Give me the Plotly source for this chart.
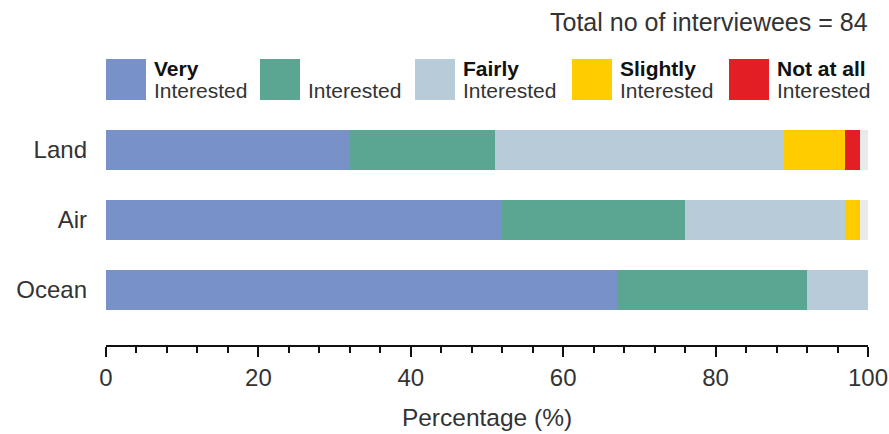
import plotly.graph_objects as go

categories = ["Land", "Air", "Ocean"]
series_names = ["Very Interested", "Interested", "Fairly Interested", "Slightly Interested", "Not at all Interested", "No answer"]
very = [32, 52, 67]
interested = [19, 24, 25]
fairly = [38, 21, 8]
slightly = [8, 2, 0]
not_at_all = [2, 0, 0]
no_answer = [1, 1, 0]
x_ticks = [0, 20, 40, 60, 80, 100]
legend_top = ["Very", "", "Fairly", "Slightly", "Not at all"]
legend_bottom = ["Interested"] * 5
colors = ["#7891c9", "#5ba593", "#b8cbd8", "#ffcc00", "#e31e24", "#e9ebeb"]

FONT = "Liberation Sans, Arial, sans-serif"
W, H = 889, 434
ML, MR, MT, MB = 106, 21, 115, 89

fig = go.Figure()
for name, vals, col in zip(series_names, [very, interested, fairly, slightly, not_at_all, no_answer], colors):
    fig.add_trace(go.Bar(
        y=categories, x=vals, name=name, orientation="h",
        marker=dict(color=col, line=dict(width=0)), width=0.571,
        showlegend=False, hoverinfo="x+name",
    ))

fig.update_layout(
    width=W, height=H, barmode="stack",
    margin=dict(l=ML, r=MR, t=MT, b=MB, pad=0, autoexpand=False),
    paper_bgcolor="white", plot_bgcolor="white",
    font=dict(family=FONT, size=24, color="#333333"),
    xaxis=dict(
        range=[0, 100], tickvals=x_ticks, showgrid=False, zeroline=False,
        showline=True, linecolor="#111111", linewidth=2,
        ticks="outside", ticklen=10, tickwidth=2, tickcolor="#111111",
        minor=dict(dtick=4, ticks="outside", ticklen=6, tickwidth=1.5, tickcolor="#111111"),
        tickfont=dict(size=24, color="#333333"),
        title=dict(text="Percentage (%)", font=dict(size=24.5, color="#333333"), standoff=19),
        automargin=False, fixedrange=True,
    ),
    yaxis=dict(
        categoryorder="array", categoryarray=categories,
        range=[2.786, -0.5], showgrid=False, zeroline=False, showline=False,
        ticks="", ticklabelstandoff=18, tickfont=dict(size=24, color="#333333"),
        automargin=False, fixedrange=True,
    ),
)

pw = W - ML - MR
ph = H - MT - MB
def px_x(p):
    return (p - ML) / pw
def px_y(p):
    return (H - MB - p) / ph

sw_left = [106, 260, 415, 572, 729]
for i in range(5):
    x0 = sw_left[i]
    fig.add_shape(type="rect", xref="paper", yref="paper",
                  x0=px_x(x0), x1=px_x(x0 + 40), y0=px_y(100), y1=px_y(59),
                  fillcolor=colors[i], line=dict(width=0))
    if legend_top[i]:
        fig.add_annotation(xref="paper", yref="paper", x=px_x(x0 + 46), y=px_y(68),
                           text="<b>" + legend_top[i] + "</b>", showarrow=False,
                           xanchor="left", yanchor="middle",
                           font=dict(size=21, color="#111111"))
    fig.add_annotation(xref="paper", yref="paper", x=px_x(x0 + 46), y=px_y(90),
                       text=legend_bottom[i], showarrow=False,
                       xanchor="left", yanchor="middle",
                       font=dict(size=21, color="#333333"))

fig.add_annotation(xref="paper", yref="paper", x=px_x(870), y=px_y(22),
                   text="Total no of interviewees = 84", showarrow=False,
                   xanchor="right", yanchor="middle",
                   font=dict(size=25, color="#333333"))

fig.write_html(
    "out.html",
    config={"displayModeBar": False},
    post_script="document.body.style.margin='0';document.body.style.overflow='hidden';",
)
